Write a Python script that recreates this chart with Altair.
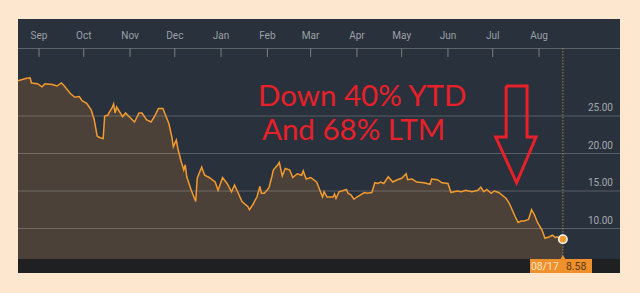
import altair as alt
import pandas as pd

# ---- price series ----
dates = [
    "2015-08-18", "2015-08-23", "2015-08-26", "2015-08-27", "2015-08-31", "2015-09-03", "2015-09-05",
    "2015-09-10", "2015-09-13", "2015-09-16", "2015-09-18", "2015-09-22", "2015-09-25", "2015-09-28",
    "2015-09-30", "2015-10-03", "2015-10-06", "2015-10-08", "2015-10-10", "2015-10-12", "2015-10-14",
    "2015-10-15", "2015-10-17", "2015-10-20", "2015-10-21", "2015-10-22", "2015-10-23", "2015-10-27",
    "2015-10-29", "2015-11-01", "2015-11-04", "2015-11-07", "2015-11-09", "2015-11-12", "2015-11-15",
    "2015-11-17", "2015-11-20", "2015-11-23", "2015-11-26", "2015-11-27", "2015-11-29", "2015-11-30",
    "2015-12-02", "2015-12-03", "2015-12-05", "2015-12-07", "2015-12-08", "2015-12-09", "2015-12-12",
    "2015-12-15", "2015-12-16", "2015-12-19", "2015-12-21", "2015-12-24", "2015-12-28", "2015-12-30",
    "2016-01-02", "2016-01-05", "2016-01-08", "2016-01-10", "2016-01-13", "2016-01-15", "2016-01-19",
    "2016-01-20", "2016-01-22", "2016-01-25", "2016-01-27", "2016-01-28", "2016-01-30", "2016-02-02",
    "2016-02-04", "2016-02-05", "2016-02-08", "2016-02-09", "2016-02-11", "2016-02-13", "2016-02-16",
    "2016-02-18", "2016-02-21", "2016-02-24", "2016-02-25", "2016-02-27", "2016-03-01", "2016-03-05",
    "2016-03-08", "2016-03-09", "2016-03-10", "2016-03-12", "2016-03-16", "2016-03-17", "2016-03-18",
    "2016-03-20", "2016-03-25", "2016-03-26", "2016-03-28", "2016-03-30", "2016-04-01", "2016-04-06",
    "2016-04-08", "2016-04-11", "2016-04-13", "2016-04-15", "2016-04-17", "2016-04-19", "2016-04-22",
    "2016-04-25", "2016-04-28", "2016-05-01", "2016-05-04", "2016-05-05", "2016-05-08", "2016-05-11",
    "2016-05-16", "2016-05-20", "2016-05-21", "2016-05-25", "2016-05-28", "2016-06-01", "2016-06-03",
    "2016-06-07", "2016-06-10", "2016-06-13", "2016-06-17", "2016-06-21", "2016-06-23", "2016-06-25",
    "2016-06-27", "2016-06-30", "2016-07-02", "2016-07-05", "2016-07-07", "2016-07-10", "2016-07-12",
    "2016-07-14", "2016-07-16", "2016-07-18", "2016-07-20", "2016-07-22", "2016-07-25", "2016-07-27",
    "2016-07-29", "2016-07-31", "2016-08-03", "2016-08-05", "2016-08-08", "2016-08-10", "2016-08-12",
    "2016-08-13", "2016-08-17",
]
prices = [
    29.7, 30.0, 30.1, 29.4, 29.3, 28.9, 29.3,
    29.2, 29.0, 29.4, 29.0, 28.0, 27.5, 27.6,
    27.0, 26.7, 25.8, 24.5, 22.3, 22.1, 22.0,
    25.0, 25.1, 26.1, 26.6, 25.4, 26.2, 24.9,
    25.4, 24.8, 24.2, 25.4, 25.4, 24.5, 24.2,
    24.8, 26.0, 26.0, 24.5, 24.0, 22.2, 20.9,
    21.8, 20.7, 19.1, 17.8, 18.5, 16.9, 15.1,
    13.6, 16.7, 18.2, 17.1, 16.8, 16.2, 15.1,
    16.8, 16.0, 14.9, 15.8, 14.5, 13.6, 12.9,
    12.5, 13.1, 14.2, 15.6, 14.7, 14.7, 15.4,
    16.9, 17.8, 18.5, 18.8, 17.0, 18.0, 17.8,
    16.8, 17.3, 17.1, 17.7, 16.6, 16.8, 16.2,
    14.7, 14.2, 14.9, 14.2, 14.2, 14.6, 14.0,
    14.9, 15.2, 14.7, 14.5, 13.9, 14.2, 14.8,
    14.7, 14.8, 16.1, 16.0, 16.2, 16.0, 16.9,
    16.2, 16.5, 16.7, 17.3, 16.5, 16.6, 16.2,
    16.1, 15.9, 16.6, 16.5, 16.1, 16.0, 14.8,
    15.0, 14.9, 15.1, 14.9, 15.1, 15.5, 14.9,
    15.2, 14.7, 15.0, 14.8, 14.5, 14.0, 13.4,
    12.5, 11.6, 10.8, 11.0, 11.0, 11.2, 12.5,
    11.8, 10.8, 9.8, 8.7, 8.9, 9.1, 8.8,
    8.9, 8.58,
]

# ---- axis contents ----
month_starts = ["2015-09-01", "2015-10-01", "2015-11-01", "2015-12-01", "2016-01-01", "2016-02-01",
                "2016-03-01", "2016-04-01", "2016-05-01", "2016-06-01", "2016-07-01", "2016-08-01"]
month_labels = ["Sep", "Oct", "Nov", "Dec", "Jan", "Feb", "Mar", "Apr", "May", "Jun", "Jul", "Aug"]
y_ticks = [10, 15, 20, 25]
y_tick_labels = ["10.00", "15.00", "20.00", "25.00"]
y_floor = 5.93  # value at the bottom edge of the plot

# ---- annotation ----
note_line_1 = "Down 40% YTD"
note_line_2 = "And 68% LTM"
arrow_dates = ["2016-07-10", "2016-07-24", "2016-07-24", "2016-07-30", "2016-07-17",
               "2016-07-03", "2016-07-10", "2016-07-10"]
arrow_values = [29.0, 29.0, 22.2, 22.2, 16.1, 22.2, 22.2, 29.0]
last_date_label = "08/17"

price_df = pd.DataFrame({"date": dates, "price": prices})
last_df = price_df.tail(1).assign(lab=last_date_label, val=f"{prices[-1]:.2f}")
month_df = pd.DataFrame({"date": month_starts, "label": month_labels})
ytick_df = pd.DataFrame({"v": y_ticks, "label": y_tick_labels})
arrow_df = pd.DataFrame({"date": arrow_dates, "v": arrow_values, "o": list(range(len(arrow_dates)))})
one = pd.DataFrame({"a": [0]})

xscale = alt.Scale(
    domain=[alt.DateTime(year=2015, month=9, date=1, utc=True),
            alt.DateTime(year=2016, month=8, date=1, utc=True)],
    range=[39, 539],
)
yscale = alt.Scale(domain=[0, 40], range=[303.5, 3.5], zero=False, nice=False)

X = lambda f="date": alt.X(f"{f}:T", scale=xscale, axis=None)
Y = lambda f: alt.Y(f"{f}:Q", scale=yscale, axis=None)

ORANGE = "#f39a2e"
RED = "#e8202a"

panel = alt.Chart(one).mark_rect(color="#29313c").encode(
    x=alt.value(18), x2=alt.value(620), y=alt.value(19), y2=alt.value(273))
band = alt.Chart(one).mark_rect(color="#1f2022").encode(
    x=alt.value(18), x2=alt.value(620), y=alt.value(259), y2=alt.value(273))
toprule = alt.Chart(one).mark_rule(color="#5d636b", strokeWidth=1).encode(
    x=alt.value(18), x2=alt.value(620), y=alt.value(48.5))

area = alt.Chart(price_df).mark_area(color="#4b4139", opacity=1).encode(
    x=X(), y=Y("price"), y2=alt.datum(y_floor))

grid = alt.Chart(ytick_df).mark_rule(color="white", opacity=0.22, strokeWidth=1).encode(
    y=Y("v"), x=alt.value(18), x2=alt.value(620))

ylabels = alt.Chart(ytick_df).mark_text(
    align="right", baseline="bottom", dy=-3, fontSize=10, font="Roboto", color="#a3a8ae"
).encode(y=Y("v"), x=alt.value(613), text="label:N")

mticks = alt.Chart(month_df).mark_rule(color="#7b8088", strokeWidth=1).encode(
    x=X(), y=alt.value(48.5), y2=alt.value(57))
mlabels = alt.Chart(month_df).mark_text(
    align="center", baseline="middle", fontSize=10, font="Roboto", color="#9ba0a7"
).encode(x=X(), y=alt.value(36), text="label:N")

vline = alt.Chart(last_df).mark_rule(color="#b0803f", strokeWidth=1, strokeDash=[1.5, 1.5]).encode(
    x=X(), y=alt.value(48), y2=alt.value(257))

line = alt.Chart(price_df).mark_line(color=ORANGE, strokeWidth=1.5, interpolate="linear").encode(
    x=X(), y=Y("price"))

arrow = alt.Chart(arrow_df).mark_line(color=RED, strokeWidth=3, strokeJoin="miter").encode(
    x=X(), y=Y("v"), order="o:Q")

note1 = alt.Chart(one).mark_text(
    align="left", baseline="alphabetic", fontSize=29.5, font="Lato", color=RED, text=note_line_1
).encode(x=alt.value(258), y=alt.value(106))
note2 = alt.Chart(one).mark_text(
    align="left", baseline="alphabetic", fontSize=29.5, font="Lato", color=RED, text=note_line_2
).encode(x=alt.value(262), y=alt.value(140))

dot = alt.Chart(last_df).mark_point(filled=True, shape="circle", size=70, color=ORANGE,
                                    stroke="white", strokeWidth=1.5, opacity=1).encode(
    x=X(), y=Y("price"))

box = alt.Chart(one).mark_rect(color="#f0902b").encode(
    x=alt.value(530), x2=alt.value(592), y=alt.value(259), y2=alt.value(273))
pointer = alt.Chart(last_df).mark_point(shape="triangle-up", filled=True, size=22, color="#f0902b",
                                        opacity=1).encode(x=X(), y=alt.value(257))
box_date = alt.Chart(last_df).mark_text(
    align="right", baseline="middle", fontSize=10.5, font="Roboto", color="#fde6cc", dx=-4
).encode(x=X(), y=alt.value(267), text="lab:N")
box_val = alt.Chart(last_df).mark_text(
    align="left", baseline="middle", fontSize=10.5, font="Roboto", color="#5a3a18", dx=3
).encode(x=X(), y=alt.value(267), text="val:N")

chart = alt.layer(
    panel, area, band, grid, toprule, mticks, mlabels, ylabels, vline, line, arrow, note1, note2,
    box, pointer, box_date, box_val, dot,
).properties(
    width=640, height=293, autosize="none", padding=0, background="#fde7cf"
).configure_view(stroke=None)

chart.save("out.html", embed_options={"renderer": "svg", "actions": False})
